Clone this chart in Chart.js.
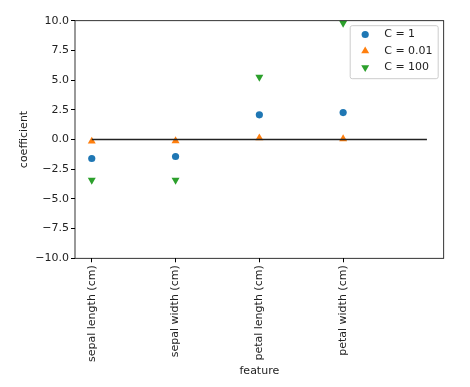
<!DOCTYPE html>
<html>
<head>
<meta charset="utf-8">
<script src="https://cdn.jsdelivr.net/npm/chart.js@4.4.0/dist/chart.umd.min.js"></script>
<style>
  html, body { margin: 0; padding: 0; background: #fff; }
  #wrap { width: 470px; height: 387px; }
</style>
</head>
<body>
<div id="wrap"><canvas id="coefChart" width="470" height="387"></canvas></div>
<script>
// feature names and coefficients for each C
const featureNames = ['sepal length (cm)', 'sepal width (cm)', 'petal length (cm)', 'petal width (cm)'];
const coefC1 = [-1.6, -1.43, 2.08, 2.27];
const coefC001 = [-0.15, -0.12, 0.12, 0.05];
const coefC100 = [-3.42, -3.42, 5.25, 9.8];
const zeroLineX = [0, 4];
const zeroLineY = [0, 0];
const yTicks = [-10, -7.5, -5, -2.5, 0, 2.5, 5, 7.5, 10];

const font = { family: 'DejaVu Sans', size: 11 };
const textColor = '#222';

function toPoints(values) {
  return values.map((v, i) => ({ x: i, y: v }));
}

// spines on all four sides like matplotlib
const frame = {
  id: 'frame',
  afterDatasetsDraw(chart) {
    const { ctx, chartArea: a } = chart;
    ctx.save();
    ctx.strokeStyle = '#000';
    ctx.lineWidth = 0.8;
    ctx.strokeRect(a.left, a.top, a.right - a.left, a.bottom - a.top);
    ctx.restore();
  }
};

// legend box in the upper right corner of the axes
const innerLegend = {
  id: 'innerLegend',
  afterDraw(chart) {
    const { ctx, chartArea: a } = chart;
    const sets = chart.data.datasets.filter(d => d.label);
    const w = 88, h = 53;
    const x0 = a.right - 5.5 - w, y0 = a.top + 5;
    ctx.save();
    ctx.beginPath();
    ctx.roundRect(x0, y0, w, h, 2);
    ctx.fillStyle = 'rgba(255,255,255,0.8)';
    ctx.fill();
    ctx.strokeStyle = '#cccccc';
    ctx.lineWidth = 1;
    ctx.stroke();
    ctx.font = '11px "DejaVu Sans"';
    ctx.textBaseline = 'middle';
    ctx.textAlign = 'left';
    sets.forEach((d, i) => {
      const y = y0 + 8.8 + i * 16.5;
      ctx.fillStyle = d.backgroundColor;
      ctx.strokeStyle = d.backgroundColor;
      Chart.helpers.drawPoint(ctx, {
        pointStyle: d.pointStyle,
        radius: d.pointRadius,
        rotation: d.pointRotation || 0,
        borderWidth: 0
      }, x0 + 15, y);
      ctx.fillStyle = textColor;
      ctx.fillText(d.label, x0 + 34, y);
    });
    ctx.restore();
  }
};

const data = {
  datasets: [
    {
      label: 'C = 1',
      data: toPoints(coefC1),
      pointStyle: 'circle',
      pointRadius: 3.6,
      backgroundColor: '#1f77b4',
      borderColor: '#1f77b4',
      borderWidth: 0,
      showLine: false
    },
    {
      label: 'C = 0.01',
      data: toPoints(coefC001),
      pointStyle: 'triangle',
      pointRadius: 4.6,
      backgroundColor: '#ff7f0e',
      borderColor: '#ff7f0e',
      borderWidth: 0,
      showLine: false
    },
    {
      label: 'C = 100',
      data: toPoints(coefC100),
      pointStyle: 'triangle',
      pointRotation: 180,
      pointRadius: 4.6,
      backgroundColor: '#2ca02c',
      borderColor: '#2ca02c',
      borderWidth: 0,
      showLine: false
    },
    {
      data: zeroLineX.map((x, i) => ({ x: x, y: zeroLineY[i] })),
      showLine: true,
      borderColor: '#222',
      borderWidth: 1.6,
      pointRadius: 0,
      order: -1
    }
  ]
};

new Chart(document.getElementById('coefChart'), {
  type: 'scatter',
  data,
  options: {
    responsive: false,
    animation: false,
    layout: { padding: { left: 0, right: 26.3, top: 20.7, bottom: 0 } },
    plugins: {
      legend: { display: false },
      tooltip: { enabled: false }
    },
    scales: {
      x: {
        type: 'linear',
        min: -0.2,
        max: 4.2,
        afterBuildTicks: s => { s.ticks = featureNames.map((_, i) => ({ value: i })); },
        afterFit: s => { s.height = 128.7; },
        grid: { drawOnChartArea: false, drawTicks: true, tickLength: 4, color: '#000' },
        border: { display: false },
        ticks: {
          autoSkip: false,
          minRotation: 90,
          maxRotation: 90,
          padding: 3,
          color: textColor,
          font,
          callback: v => featureNames[v]
        },
        title: { display: true, text: 'feature', color: textColor, font, padding: { top: 0, bottom: 9.4 } }
      },
      y: {
        min: -10,
        max: 10,
        afterBuildTicks: s => { s.ticks = yTicks.map(v => ({ value: v })); },
        afterFit: s => { s.width = 75; },
        grid: { drawOnChartArea: false, drawTicks: true, tickLength: 4, color: '#000' },
        border: { display: false },
        ticks: {
          padding: 2,
          color: textColor,
          font,
          callback: v => (v < 0 ? '\u2212' : '') + Math.abs(v).toFixed(1)
        },
        title: { display: true, text: 'coefficient', color: textColor, font, padding: { top: 17.9, bottom: 0 } }
      }
    }
  },
  plugins: [frame, innerLegend]
});
</script>
</body>
</html>
